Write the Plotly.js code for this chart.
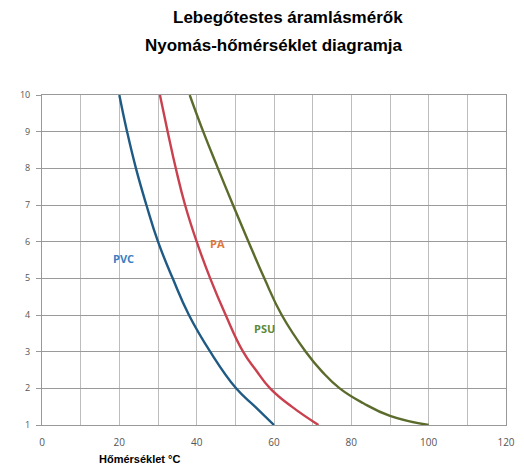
<!DOCTYPE html>
<html><head><meta charset="utf-8">
<script src="https://cdn.plot.ly/plotly-3.0.1.min.js"></script>
<style>body{margin:0;background:#fff}#c{width:524px;height:467px}</style>
</head><body><div id="c"></div>
<script>
const pvcPressure = [10, 9, 8, 7, 6, 5, 4, 3, 2, 1.5, 1];
const pvcTemp     = [20, 22, 24.3, 27, 30, 33.8, 38, 43.5, 50.2, 55.1, 60];
const paPressure  = [10, 9, 8, 7, 6, 5, 4, 3, 2.5, 2, 1.5, 1];
const paTemp      = [30.5, 32.5, 34.6, 37, 40, 43.5, 47.5, 52, 55.3, 59, 64.6, 71.5];
const psuPressure = [10, 9, 8, 7, 6, 5, 4, 3, 2.45, 2, 1.6, 1.25, 1];
const psuTemp     = [38.2, 41.7, 45.5, 49.4, 53.4, 57.5, 62, 68.2, 72.5, 77, 83, 90, 100];
const seriesNames = ['PVC', 'PA', 'PSU'];
const labelPos = {PVC: [21, 5.55], PA: [45.5, 5.96], PSU: [57.6, 3.62]};
const xTicks = [0, 20, 40, 60, 80, 100, 120];
const yTicks = [1, 2, 3, 4, 5, 6, 7, 8, 9, 10];

const lineColors = ['#1f5a85', '#c9414e', '#5b6b2c'];
const labelColors = ['#3c7fc0', '#e0773a', '#5e8a3a'];
const xs = [pvcTemp, paTemp, psuTemp];
const ys = [pvcPressure, paPressure, psuPressure];

const data = seriesNames.map((n, i) => ({
  x: xs[i], y: ys[i], name: n, mode: 'lines', type: 'scatter',
  line: {color: lineColors[i], width: 2.4, shape: 'spline', smoothing: 1.3},
  hoverinfo: 'skip', showlegend: false
}));

const annotations = seriesNames.map((n, i) => ({
  x: labelPos[n][0], y: labelPos[n][1], xref: 'x', yref: 'y', text: '<b>' + n + '</b>',
  showarrow: false, font: {family: 'Open Sans, sans-serif', size: 11, color: labelColors[i]}
}));
annotations.push({
  xref: 'paper', yref: 'paper', x: 0.21, y: -0.08, yanchor: 'top', xanchor: 'center',
  text: '<b>Hőmérséklet °C</b>', showarrow: false,
  font: {family: 'Liberation Sans, Arial, sans-serif', size: 11, color: '#000'}
});
annotations.push({
  xref: 'paper', yref: 'paper', x: 0.7817, y: 1.236, xanchor: 'right', yanchor: 'middle',
  text: '<b>Lebegőtestes áramlásmérők</b>', showarrow: false,
  font: {family: 'Liberation Sans, Arial, sans-serif', size: 17, color: '#000'}
});
annotations.push({
  xref: 'paper', yref: 'paper', x: 0.7817, y: 1.1515, xanchor: 'right', yanchor: 'middle',
  text: '<b>Nyomás-hőmérséklet diagramja</b>', showarrow: false,
  font: {family: 'Liberation Sans, Arial, sans-serif', size: 17, color: '#000'}
});

const layout = {
  width: 524, height: 467,
  margin: {l: 41.5, r: 17.5, t: 95, b: 42, pad: 0},
  paper_bgcolor: '#fff', plot_bgcolor: '#fff',
  xaxis: {range: [0, 120], tickvals: xTicks, ticktext: xTicks.map(String),
    showgrid: true, gridcolor: '#bdbdbd', gridwidth: 1,
    minor: {dtick: 10, showgrid: true, gridcolor: '#bdbdbd', gridwidth: 1},
    zeroline: false, showline: true, linecolor: '#999', mirror: true,
    ticks: 'outside', ticklen: 8, tickcolor: 'rgba(0,0,0,0)',
    tickfont: {family: 'Open Sans, sans-serif', size: 10, color: '#555'}},
  yaxis: {range: [1, 10], tickvals: yTicks, ticktext: yTicks.map(String),
    showgrid: true, gridcolor: '#9a9a9a', gridwidth: 1,
    zeroline: false, showline: true, linecolor: '#999', mirror: true, ticks: 'outside', ticklen: 5, tickcolor: '#999',
    ticklabelstandoff: 4,
    tickfont: {family: 'Open Sans, sans-serif', size: 9, color: '#555'}},
  annotations: annotations
};
Plotly.newPlot('c', data, layout, {displayModeBar: false, staticPlot: true});
</script></body></html>
